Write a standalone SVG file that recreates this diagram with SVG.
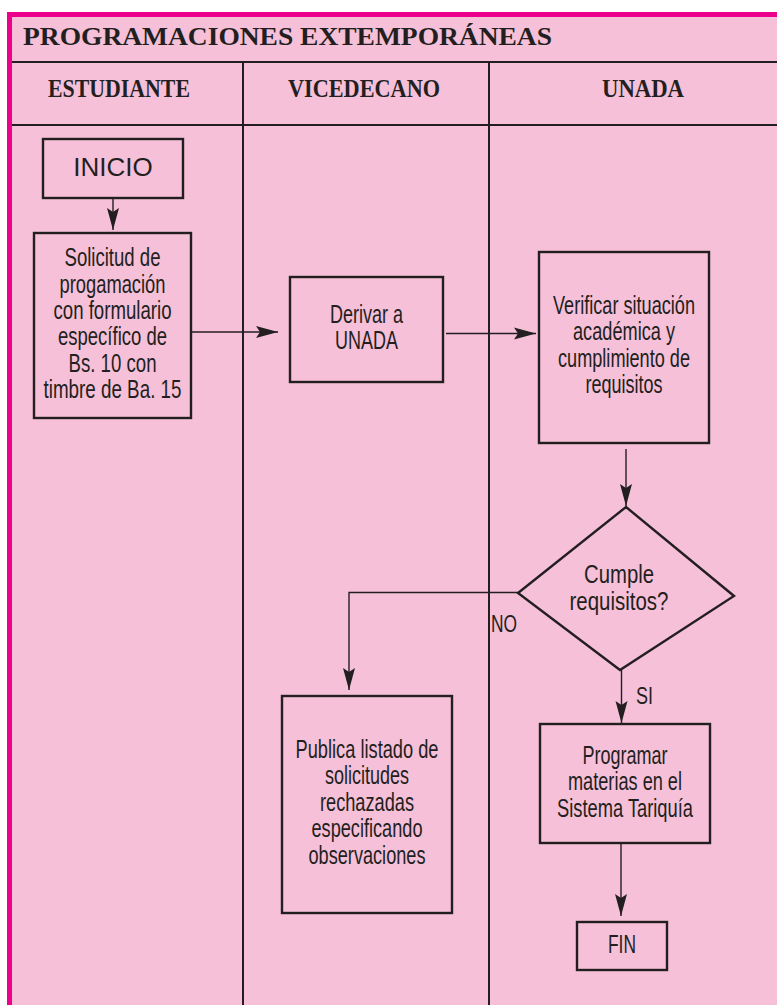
<svg xmlns="http://www.w3.org/2000/svg" width="777" height="1005" viewBox="0 0 777 1005">
<style>
.frame{fill:#EC008C}
.bg{fill:#F6C0D8}
.rule{stroke:#231F20;stroke-width:2;fill:none}
.box{fill:#F6C0D8;stroke:#231F20;stroke-width:2.4}
.conn{stroke:#231F20;stroke-width:1.4;fill:none}
.title{font-family:"Liberation Serif",serif;font-weight:bold;font-size:25px;fill:#231F20}
.head{font-family:"Liberation Serif",serif;font-weight:bold;font-size:25px;fill:#231F20}
.t{font-family:"Liberation Sans",Arial,sans-serif;font-size:25px;fill:#231F20;text-anchor:middle}
.lbl{font-family:"Liberation Sans",Arial,sans-serif;font-size:24px;fill:#231F20}
</style>
<defs>
<marker id="arr" markerUnits="userSpaceOnUse" markerWidth="24" markerHeight="14" refX="22" refY="6" orient="auto" overflow="visible">
<path d="M0,0 L22,6 L0,12 L4,6 Z" fill="#231F20"/>
</marker>
</defs>
<rect class="frame" x="7" y="12" width="770" height="993"/>
<rect class="bg" x="12" y="17" width="765" height="988"/>
<g id="header">
<line class="rule" x1="12" y1="62" x2="777" y2="62"/>
<line class="rule" x1="12" y1="125" x2="777" y2="125"/>
<line class="rule" x1="243" y1="62" x2="243" y2="1005"/>
<line class="rule" x1="489" y1="62" x2="489" y2="1005"/>
<text class="title" x="23" y="45" textLength="529" lengthAdjust="spacingAndGlyphs">PROGRAMACIONES EXTEMPORÁNEAS</text>
<text class="head" x="48" y="97" textLength="142" lengthAdjust="spacingAndGlyphs">ESTUDIANTE</text>
<text class="head" x="288" y="97" textLength="152" lengthAdjust="spacingAndGlyphs">VICEDECANO</text>
<text class="head" x="602" y="97" textLength="82" lengthAdjust="spacingAndGlyphs">UNADA</text>
</g>
<g id="connectors">
<line class="conn" x1="113" y1="198" x2="113" y2="230" marker-end="url(#arr)"/>
<line class="conn" x1="191" y1="332" x2="278" y2="332" marker-end="url(#arr)"/>
<line class="conn" x1="446" y1="333.5" x2="536" y2="333.5" marker-end="url(#arr)"/>
<line class="conn" x1="626" y1="449" x2="626" y2="506" marker-end="url(#arr)"/>
<polyline class="conn" points="518,592.5 349,592.5 349,690" marker-end="url(#arr)"/>
<line class="conn" x1="621.5" y1="670" x2="621.5" y2="723" marker-end="url(#arr)"/>
<line class="conn" x1="621" y1="840" x2="621" y2="916" marker-end="url(#arr)"/>
<text class="lbl" x="491" y="632" textLength="26" lengthAdjust="spacingAndGlyphs">NO</text>
<text class="lbl" x="636" y="704" textLength="17" lengthAdjust="spacingAndGlyphs">SI</text>
</g>
<g id="inicio">
<rect class="box" x="43" y="139" width="140" height="59"/>
<text class="t" x="113" y="176" style="font-size:26px">INICIO</text>
</g>
<g id="solicitud">
<rect class="box" x="34" y="233" width="157" height="185"/>
<text class="t" x="112.5" y="266" textLength="96" lengthAdjust="spacingAndGlyphs">Solicitud de</text>
<text class="t" x="112.5" y="292.5" textLength="106" lengthAdjust="spacingAndGlyphs">progamación</text>
<text class="t" x="112.5" y="319" textLength="118" lengthAdjust="spacingAndGlyphs">con formulario</text>
<text class="t" x="112.5" y="345" textLength="109" lengthAdjust="spacingAndGlyphs">específico de</text>
<text class="t" x="112.5" y="371.5" textLength="88" lengthAdjust="spacingAndGlyphs">Bs. 10 con</text>
<text class="t" x="112.5" y="398" textLength="138" lengthAdjust="spacingAndGlyphs">timbre de Ba. 15</text>
</g>
<g id="derivar">
<rect class="box" x="290" y="277" width="153" height="105"/>
<text class="t" x="366.5" y="323" textLength="73" lengthAdjust="spacingAndGlyphs">Derivar a</text>
<text class="t" x="366.5" y="349" textLength="63" lengthAdjust="spacingAndGlyphs">UNADA</text>
</g>
<g id="verificar">
<rect class="box" x="539" y="252" width="170" height="191"/>
<text class="t" x="624" y="313.5" textLength="142" lengthAdjust="spacingAndGlyphs">Verificar situación</text>
<text class="t" x="624" y="340" textLength="102" lengthAdjust="spacingAndGlyphs">académica y</text>
<text class="t" x="624" y="366.5" textLength="132" lengthAdjust="spacingAndGlyphs">cumplimiento de</text>
<text class="t" x="624" y="393" textLength="77" lengthAdjust="spacingAndGlyphs">requisitos</text>
</g>
<g id="cumple">
<polygon class="box" points="626,507 734,596 620,670 518,593"/>
<text class="t" x="619" y="583" textLength="70" lengthAdjust="spacingAndGlyphs">Cumple</text>
<text class="t" x="619" y="609.5" textLength="99" lengthAdjust="spacingAndGlyphs">requisitos?</text>
</g>
<g id="publica">
<rect class="box" x="282" y="696" width="170" height="217"/>
<text class="t" x="367" y="757.5" textLength="143" lengthAdjust="spacingAndGlyphs">Publica listado de</text>
<text class="t" x="367" y="784" textLength="84" lengthAdjust="spacingAndGlyphs">solicitudes</text>
<text class="t" x="367" y="810.5" textLength="94" lengthAdjust="spacingAndGlyphs">rechazadas</text>
<text class="t" x="367" y="837" textLength="111" lengthAdjust="spacingAndGlyphs">especificando</text>
<text class="t" x="367" y="864" textLength="117" lengthAdjust="spacingAndGlyphs">observaciones</text>
</g>
<g id="programar">
<rect class="box" x="540" y="724" width="170" height="119"/>
<text class="t" x="625" y="763.5" textLength="85" lengthAdjust="spacingAndGlyphs">Programar</text>
<text class="t" x="625" y="790" textLength="114" lengthAdjust="spacingAndGlyphs">materias en el</text>
<text class="t" x="625" y="816.5" textLength="136" lengthAdjust="spacingAndGlyphs">Sistema Tariquía</text>
</g>
<g id="fin">
<rect class="box" x="577" y="922" width="90" height="48"/>
<text class="t" x="622" y="953" textLength="28" lengthAdjust="spacingAndGlyphs">FIN</text>
</g>
</svg>
